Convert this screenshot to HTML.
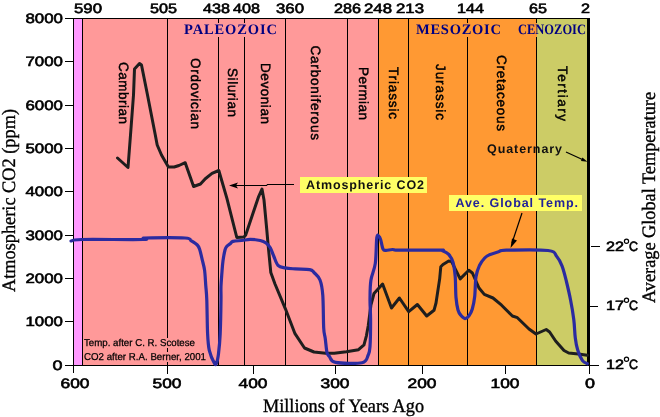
<!DOCTYPE html>
<html><head><meta charset="utf-8"><style>
html,body{margin:0;padding:0;background:#fff;}
svg{display:block;will-change:transform;}
</style></head><body>
<svg width="660" height="417" viewBox="0 0 660 417" text-rendering="geometricPrecision">
<rect width="660" height="417" fill="#fff"/>
<rect x="73" y="18" width="10" height="347" fill="#FF99FF"/>
<rect x="83" y="18" width="296" height="347" fill="#FF9999"/>
<rect x="379" y="18" width="158" height="347" fill="#FF9933"/>
<rect x="537" y="18" width="51" height="347" fill="#CCCC66"/>
<rect x="82" y="18" width="1" height="347" fill="#000"/>
<rect x="167" y="18" width="1" height="347" fill="#000"/>
<rect x="218" y="18" width="1" height="347" fill="#000"/>
<rect x="244" y="18" width="1" height="347" fill="#000"/>
<rect x="285" y="18" width="1" height="347" fill="#000"/>
<rect x="347" y="18" width="1" height="347" fill="#000"/>
<rect x="378" y="18" width="1" height="347" fill="#000"/>
<rect x="408" y="18" width="1" height="347" fill="#000"/>
<rect x="467" y="18" width="1" height="347" fill="#000"/>
<rect x="536" y="18" width="1" height="347" fill="#000"/>
<rect x="65" y="18" width="524" height="1" fill="#000"/>
<rect x="65" y="365" width="533" height="1" fill="#000"/>
<rect x="73" y="18" width="1" height="355" fill="#000"/>
<rect x="587" y="18" width="3" height="348" fill="#000"/>
<rect x="65" y="61" width="8" height="1" fill="#000"/>
<rect x="65" y="105" width="8" height="1" fill="#000"/>
<rect x="65" y="148" width="8" height="1" fill="#000"/>
<rect x="65" y="191" width="8" height="1" fill="#000"/>
<rect x="65" y="235" width="8" height="1" fill="#000"/>
<rect x="65" y="278" width="8" height="1" fill="#000"/>
<rect x="65" y="321" width="8" height="1" fill="#000"/>
<rect x="167" y="366" width="1" height="8" fill="#000"/>
<rect x="253" y="366" width="1" height="8" fill="#000"/>
<rect x="335" y="366" width="1" height="8" fill="#000"/>
<rect x="422" y="366" width="1" height="8" fill="#000"/>
<rect x="505" y="366" width="1" height="8" fill="#000"/>
<rect x="589" y="366" width="1" height="8" fill="#000"/>
<rect x="591" y="246" width="9" height="1" fill="#000"/>
<rect x="589" y="306" width="9" height="1" fill="#000"/>
<rect x="589" y="365" width="10" height="1" fill="#000"/>
<text x="63" y="23" font-size="13.5" font-weight="normal" fill="#000" text-anchor="end" font-family='"Liberation Sans", sans-serif' textLength="37.5" lengthAdjust="spacingAndGlyphs" stroke="#000" stroke-width="0.6">8000</text>
<text x="63" y="66" font-size="13.5" font-weight="normal" fill="#000" text-anchor="end" font-family='"Liberation Sans", sans-serif' textLength="37.5" lengthAdjust="spacingAndGlyphs" stroke="#000" stroke-width="0.6">7000</text>
<text x="63" y="110" font-size="13.5" font-weight="normal" fill="#000" text-anchor="end" font-family='"Liberation Sans", sans-serif' textLength="37.5" lengthAdjust="spacingAndGlyphs" stroke="#000" stroke-width="0.6">6000</text>
<text x="63" y="153" font-size="13.5" font-weight="normal" fill="#000" text-anchor="end" font-family='"Liberation Sans", sans-serif' textLength="37.5" lengthAdjust="spacingAndGlyphs" stroke="#000" stroke-width="0.6">5000</text>
<text x="63" y="196" font-size="13.5" font-weight="normal" fill="#000" text-anchor="end" font-family='"Liberation Sans", sans-serif' textLength="37.5" lengthAdjust="spacingAndGlyphs" stroke="#000" stroke-width="0.6">4000</text>
<text x="63" y="240" font-size="13.5" font-weight="normal" fill="#000" text-anchor="end" font-family='"Liberation Sans", sans-serif' textLength="37.5" lengthAdjust="spacingAndGlyphs" stroke="#000" stroke-width="0.6">3000</text>
<text x="63" y="283" font-size="13.5" font-weight="normal" fill="#000" text-anchor="end" font-family='"Liberation Sans", sans-serif' textLength="37.5" lengthAdjust="spacingAndGlyphs" stroke="#000" stroke-width="0.6">2000</text>
<text x="63" y="326" font-size="13.5" font-weight="normal" fill="#000" text-anchor="end" font-family='"Liberation Sans", sans-serif' textLength="37.5" lengthAdjust="spacingAndGlyphs" stroke="#000" stroke-width="0.6">1000</text>
<text x="62.5" y="370" font-size="13.5" font-weight="normal" fill="#000" text-anchor="end" font-family='"Liberation Sans", sans-serif' textLength="10" lengthAdjust="spacingAndGlyphs" stroke="#000" stroke-width="0.6">0</text>
<text x="75" y="388" font-size="13.5" font-weight="normal" fill="#000" text-anchor="middle" font-family='"Liberation Sans", sans-serif' textLength="29" lengthAdjust="spacingAndGlyphs" stroke="#000" stroke-width="0.6">600</text>
<text x="167" y="388" font-size="13.5" font-weight="normal" fill="#000" text-anchor="middle" font-family='"Liberation Sans", sans-serif' textLength="29" lengthAdjust="spacingAndGlyphs" stroke="#000" stroke-width="0.6">500</text>
<text x="253" y="388" font-size="13.5" font-weight="normal" fill="#000" text-anchor="middle" font-family='"Liberation Sans", sans-serif' textLength="29" lengthAdjust="spacingAndGlyphs" stroke="#000" stroke-width="0.6">400</text>
<text x="335" y="388" font-size="13.5" font-weight="normal" fill="#000" text-anchor="middle" font-family='"Liberation Sans", sans-serif' textLength="29" lengthAdjust="spacingAndGlyphs" stroke="#000" stroke-width="0.6">300</text>
<text x="422" y="388" font-size="13.5" font-weight="normal" fill="#000" text-anchor="middle" font-family='"Liberation Sans", sans-serif' textLength="29" lengthAdjust="spacingAndGlyphs" stroke="#000" stroke-width="0.6">200</text>
<text x="505" y="388" font-size="13.5" font-weight="normal" fill="#000" text-anchor="middle" font-family='"Liberation Sans", sans-serif' textLength="29" lengthAdjust="spacingAndGlyphs" stroke="#000" stroke-width="0.6">100</text>
<text x="590" y="388" font-size="13.5" font-weight="normal" fill="#000" text-anchor="middle" font-family='"Liberation Sans", sans-serif' textLength="10" lengthAdjust="spacingAndGlyphs" stroke="#000" stroke-width="0.6">0</text>
<text x="74" y="13" font-size="13.5" font-weight="normal" fill="#000" text-anchor="start" font-family='"Liberation Sans", sans-serif' textLength="28" lengthAdjust="spacingAndGlyphs" stroke="#000" stroke-width="0.6">590</text>
<text x="150" y="13" font-size="13.5" font-weight="normal" fill="#000" text-anchor="start" font-family='"Liberation Sans", sans-serif' textLength="27" lengthAdjust="spacingAndGlyphs" stroke="#000" stroke-width="0.6">505</text>
<text x="203" y="13" font-size="13.5" font-weight="normal" fill="#000" text-anchor="start" font-family='"Liberation Sans", sans-serif' textLength="27" lengthAdjust="spacingAndGlyphs" stroke="#000" stroke-width="0.6">438</text>
<text x="233" y="13" font-size="13.5" font-weight="normal" fill="#000" text-anchor="start" font-family='"Liberation Sans", sans-serif' textLength="27" lengthAdjust="spacingAndGlyphs" stroke="#000" stroke-width="0.6">408</text>
<text x="276" y="13" font-size="13.5" font-weight="normal" fill="#000" text-anchor="start" font-family='"Liberation Sans", sans-serif' textLength="28" lengthAdjust="spacingAndGlyphs" stroke="#000" stroke-width="0.6">360</text>
<text x="334" y="13" font-size="13.5" font-weight="normal" fill="#000" text-anchor="start" font-family='"Liberation Sans", sans-serif' textLength="27" lengthAdjust="spacingAndGlyphs" stroke="#000" stroke-width="0.6">286</text>
<text x="364" y="13" font-size="13.5" font-weight="normal" fill="#000" text-anchor="start" font-family='"Liberation Sans", sans-serif' textLength="28" lengthAdjust="spacingAndGlyphs" stroke="#000" stroke-width="0.6">248</text>
<text x="396" y="13" font-size="13.5" font-weight="normal" fill="#000" text-anchor="start" font-family='"Liberation Sans", sans-serif' textLength="28" lengthAdjust="spacingAndGlyphs" stroke="#000" stroke-width="0.6">213</text>
<text x="457" y="13" font-size="13.5" font-weight="normal" fill="#000" text-anchor="start" font-family='"Liberation Sans", sans-serif' textLength="27" lengthAdjust="spacingAndGlyphs" stroke="#000" stroke-width="0.6">144</text>
<text x="529" y="13" font-size="13.5" font-weight="normal" fill="#000" text-anchor="start" font-family='"Liberation Sans", sans-serif' textLength="18" lengthAdjust="spacingAndGlyphs" stroke="#000" stroke-width="0.6">65</text>
<text x="581" y="13" font-size="13.5" font-weight="normal" fill="#000" text-anchor="start" font-family='"Liberation Sans", sans-serif' textLength="9" lengthAdjust="spacingAndGlyphs" stroke="#000" stroke-width="0.6">2</text>
<text x="606" y="251" font-size="13.5" font-weight="normal" fill="#000" text-anchor="start" font-family='"Liberation Sans", sans-serif' textLength="18" lengthAdjust="spacingAndGlyphs" stroke="#000" stroke-width="0.6">22</text>
<text x="629" y="251" font-size="13.5" font-weight="normal" fill="#000" text-anchor="start" font-family='"Liberation Sans", sans-serif' textLength="9" lengthAdjust="spacingAndGlyphs" stroke="#000" stroke-width="0.6">C</text>
<circle cx="626.5" cy="241.3" r="2.1" fill="none" stroke="#000" stroke-width="1.2"/>
<text x="606" y="310" font-size="13.5" font-weight="normal" fill="#000" text-anchor="start" font-family='"Liberation Sans", sans-serif' textLength="18" lengthAdjust="spacingAndGlyphs" stroke="#000" stroke-width="0.6">17</text>
<text x="629" y="310" font-size="13.5" font-weight="normal" fill="#000" text-anchor="start" font-family='"Liberation Sans", sans-serif' textLength="9" lengthAdjust="spacingAndGlyphs" stroke="#000" stroke-width="0.6">C</text>
<circle cx="626.5" cy="300.3" r="2.1" fill="none" stroke="#000" stroke-width="1.2"/>
<text x="606" y="369" font-size="13.5" font-weight="normal" fill="#000" text-anchor="start" font-family='"Liberation Sans", sans-serif' textLength="18" lengthAdjust="spacingAndGlyphs" stroke="#000" stroke-width="0.6">12</text>
<text x="629" y="369" font-size="13.5" font-weight="normal" fill="#000" text-anchor="start" font-family='"Liberation Sans", sans-serif' textLength="9" lengthAdjust="spacingAndGlyphs" stroke="#000" stroke-width="0.6">C</text>
<circle cx="626.5" cy="359.3" r="2.1" fill="none" stroke="#000" stroke-width="1.2"/>
<rect x="183" y="23" width="95" height="14" fill="#FF9999"/>
<rect x="415" y="23" width="87" height="14" fill="#FF9933"/>
<text x="184" y="34" font-size="14.5" font-weight="bold" fill="#000080" text-anchor="start" font-family='"Liberation Serif", serif' textLength="93" lengthAdjust="spacing" >PALEOZOIC</text>
<text x="416" y="34" font-size="14.5" font-weight="bold" fill="#000080" text-anchor="start" font-family='"Liberation Serif", serif' textLength="85" lengthAdjust="spacing" >MESOZOIC</text>
<rect x="536" y="23" width="1" height="14" fill="#FF9933"/>
<text x="518" y="34" font-size="14.5" font-weight="bold" fill="#000080" text-anchor="start" font-family='"Liberation Serif", serif' textLength="68" lengthAdjust="spacingAndGlyphs" >CENOZOIC</text>
<text transform="translate(118.5,62) rotate(90)" x="0" y="0" font-size="13.5" font-weight="normal" fill="#000" font-family='"Liberation Sans", sans-serif' textLength="62" lengthAdjust="spacing" stroke="#000" stroke-width="0.45">Cambrian</text>
<text transform="translate(190.5,58) rotate(90)" x="0" y="0" font-size="13.5" font-weight="normal" fill="#000" font-family='"Liberation Sans", sans-serif' textLength="71" lengthAdjust="spacing" stroke="#000" stroke-width="0.45">Ordovician</text>
<text transform="translate(227.5,68) rotate(90)" x="0" y="0" font-size="13.5" font-weight="normal" fill="#000" font-family='"Liberation Sans", sans-serif' textLength="49" lengthAdjust="spacing" stroke="#000" stroke-width="0.45">Silurian</text>
<text transform="translate(260.5,63) rotate(90)" x="0" y="0" font-size="13.5" font-weight="normal" fill="#000" font-family='"Liberation Sans", sans-serif' textLength="61" lengthAdjust="spacing" stroke="#000" stroke-width="0.45">Devonian</text>
<text transform="translate(311,45.5) rotate(90)" x="0" y="0" font-size="13.5" font-weight="normal" fill="#000" font-family='"Liberation Sans", sans-serif' textLength="94.5" lengthAdjust="spacing" stroke="#000" stroke-width="0.45">Carboniferous</text>
<text transform="translate(358.5,67) rotate(90)" x="0" y="0" font-size="13.5" font-weight="normal" fill="#000" font-family='"Liberation Sans", sans-serif' textLength="53" lengthAdjust="spacing" stroke="#000" stroke-width="0.45">Permian</text>
<text transform="translate(389,67) rotate(90)" x="0" y="0" font-size="13.5" font-weight="normal" fill="#000" font-family='"Liberation Sans", sans-serif' textLength="52" lengthAdjust="spacing" stroke="#000" stroke-width="0.45">Triassic</text>
<text transform="translate(436,64) rotate(90)" x="0" y="0" font-size="13.5" font-weight="normal" fill="#000" font-family='"Liberation Sans", sans-serif' textLength="56" lengthAdjust="spacing" stroke="#000" stroke-width="0.45">Jurassic</text>
<text transform="translate(496.5,55) rotate(90)" x="0" y="0" font-size="13.5" font-weight="normal" fill="#000" font-family='"Liberation Sans", sans-serif' textLength="76" lengthAdjust="spacing" stroke="#000" stroke-width="0.45">Cretaceous</text>
<text transform="translate(557.5,66) rotate(90)" x="0" y="0" font-size="13.5" font-weight="normal" fill="#000" font-family='"Liberation Sans", sans-serif' textLength="55" lengthAdjust="spacing" stroke="#000" stroke-width="0.45">Tertiary</text>
<rect x="83" y="338" width="114" height="10" fill="#FF9999"/>
<rect x="83" y="352" width="124" height="10" fill="#FF9999"/>
<text x="84" y="346" font-size="10" font-weight="normal" fill="#000" text-anchor="start" font-family='"Liberation Sans", sans-serif' textLength="111" lengthAdjust="spacingAndGlyphs" stroke="#000" stroke-width="0.25">Temp. after C. R. Scotese</text>
<text x="84" y="360" font-size="10" font-weight="normal" fill="#000" text-anchor="start" font-family='"Liberation Sans", sans-serif' textLength="122" lengthAdjust="spacingAndGlyphs" stroke="#000" stroke-width="0.25">CO2 after R.A. Berner, 2001</text>
<path d="M117.5,158 L128,167.5 L130.5,135 L133.5,95 L134.5,69 L139.5,63.5 L141.5,65 L147.5,95 L155.3,135 L157.2,145 L161.5,155 L168.4,167 L174.2,167 L179,165.5 L185.2,162.7 L193.6,186.5 L200.5,184 L205.3,178.7 L212,173.4 L218.8,170.5 L226.9,198.4 L236.8,237.5 L244,237 L245.7,235 L258.3,197.4 L262,189 L264,200 L266.8,230 L268,243.7 L269.4,258 L270.8,272.5 L275,284 L285.4,308.8 L295,333.7 L304.5,348 L314,352 L325.7,353.3 L334.2,353.3 L346.4,351.8 L358.5,349.7 L364,344.8 L366.4,335.8 L368.2,326 L370.9,305.2 L374,293.5 L382.6,284 L391.5,308 L399.4,298 L408.7,311.7 L417.4,304.5 L426.7,316 L434,310.3 L436,303 L439.7,278.6 L440.8,266.7 L443,264.5 L448.7,261 L451.6,261.6 L460.2,278.9 L468.8,270.3 L472.4,273 L479,288 L484.3,294.4 L493,298 L501.6,305.2 L512.4,316 L517.4,317.7 L529,329 L536,334 L546.2,329.5 L549.6,332 L555.6,341 L564,350.5 L568.7,353 L578.3,354 L587.3,355.3" fill="none" stroke="#1e1e1e" stroke-width="3" stroke-linejoin="round" stroke-linecap="round"/>
<path d="M71,241 C72.8,240.8 70.0,239.8 82,239.5 C94.0,239.2 132.5,239.8 143,239.5 C153.5,239.2 138.0,238.2 145,238 C152.0,237.8 177.3,237.5 185,238 C192.7,238.5 189.1,239.6 191.2,240.8 C193.2,242.0 195.9,243.6 197.3,245 C198.7,246.4 198.9,247.1 199.7,249.5 C200.5,251.9 201.4,256.1 202.2,259.6 C203.0,263.1 204.0,266.0 204.6,270.4 C205.2,274.8 205.4,281.1 205.8,286 C206.2,290.9 206.5,292.1 206.8,300 C207.1,307.9 207.2,325.2 207.6,333.6 C208.0,342.0 208.2,345.4 209.3,350.4 C210.5,355.4 213.3,361.4 214.5,363.5 C215.7,365.6 215.8,364.6 216.5,363 C217.2,361.4 217.9,358.7 218.5,353.8 C219.1,348.9 219.8,342.6 220.2,333.6 C220.6,324.6 220.9,307.9 221,300 C221.1,292.1 220.8,290.7 221,286 C221.2,281.3 221.7,275.8 222,271.6 C222.3,267.4 222.5,264.4 223,260.8 C223.5,257.2 224.4,252.4 225,250 C225.6,247.6 225.9,247.4 226.7,246.4 C227.5,245.4 228.9,244.7 230,243.9 C231.1,243.1 231.0,242.0 233,241.4 C235.0,240.8 238.9,240.8 241.8,240.5 C244.7,240.2 247.1,239.3 250.2,239.3 C253.3,239.3 257.6,239.9 260.2,240.5 C262.8,241.1 264.3,241.8 266,243 C267.7,244.2 269.0,245.5 270.3,247.7 C271.6,249.9 272.4,253.1 273.7,256 C275.0,258.9 276.1,263.3 278,265.3 C279.9,267.3 282.3,267.3 285.2,267.9 C288.1,268.5 291.2,268.6 295.3,268.9 C299.4,269.2 306.6,269.0 309.7,269.6 C312.8,270.2 312.3,270.8 314,272.5 C315.7,274.2 318.5,276.2 320,280 C321.5,283.8 322.2,287.4 322.8,295.4 C323.4,303.4 323.3,320.9 323.7,328 C324.1,335.1 324.6,334.1 325.2,338.2 C325.8,342.3 326.3,349.7 327,352.7 C327.7,355.7 328.0,354.8 329.4,356.4 C330.8,358.0 330.1,361.3 335.5,362.4 C340.9,363.4 356.6,363.9 362,362.7 C367.4,361.5 366.9,357.7 368.2,355 C369.5,352.3 369.6,352.5 370,346.7 C370.4,340.9 370.6,327.9 370.6,320 C370.6,312.1 369.9,305.6 370,299 C370.1,292.4 370.0,286.1 370.9,280.2 C371.8,274.3 374.3,270.5 375.3,263.4 C376.3,256.3 376.2,242.0 376.8,237.5 C377.4,233.0 378.4,236.2 379,236.5 C379.6,236.8 379.9,237.3 380.6,239.4 C381.3,241.5 382.1,247.2 383,249 C383.9,250.8 384.3,250.3 385.9,250.4 C387.5,250.5 390.2,249.5 392.6,249.5 C395.0,249.5 392.1,250.1 400,250.2 C407.9,250.3 433.0,250.1 440,250.2 C447.0,250.2 440.8,249.8 442.2,250.5 C443.6,251.2 446.9,252.4 448.7,254.4 C450.5,256.4 451.9,258.6 453,262.3 C454.1,266.0 454.7,270.8 455.2,276.7 C455.7,282.6 455.5,291.9 456,297.5 C456.5,303.1 457.2,307.1 458,310 C458.8,312.9 459.6,313.8 460.8,315.2 C462.0,316.6 463.6,318.5 465,318.6 C466.4,318.7 467.8,317.3 469,315.7 C470.2,314.1 471.4,312.2 472.3,309 C473.2,305.8 474.1,301.9 474.7,296.5 C475.3,291.1 475.2,281.9 476,276.7 C476.8,271.5 478.2,268.3 479.6,265.2 C481.1,262.1 483.1,259.7 484.7,258 C486.3,256.3 487.2,255.9 489.5,254.8 C491.8,253.8 495.8,252.5 498.6,251.7 C501.4,250.9 498.0,250.4 506.2,250.2 C514.4,250.0 539.6,249.5 548,250.5 C556.4,251.5 554.3,253.6 556.6,256.2 C558.9,258.8 560.4,261.8 562,265.9 C563.6,270.0 564.9,275.3 566.3,281 C567.7,286.7 569.4,293.9 570.6,300.3 C571.9,306.8 573.0,313.4 573.8,319.7 C574.6,326.0 574.6,332.9 575.3,338 C575.9,343.1 576.5,346.2 577.7,350 C578.9,353.8 580.9,358.4 582.5,360.7 C584.1,363.0 586.5,363.2 587.3,363.7" fill="none" stroke="#2B2BA0" stroke-width="3.2" stroke-linejoin="round" stroke-linecap="round"/>
<rect x="300" y="177" width="127" height="16" fill="#FFFF66"/>
<text x="306" y="189" font-size="12.5" font-weight="bold" fill="#111" text-anchor="start" font-family='"Liberation Sans", sans-serif' textLength="118" lengthAdjust="spacing" >Atmospheric CO2</text>
<path d="M294,184.5 L267,184.5 L267,185.5 L232,185.5" stroke="#000" stroke-width="1" fill="none"/>
<path d="M229,185.5 L238,182.5 L236,185.5 L238,188.5 Z" fill="#000"/>
<rect x="449" y="195" width="133" height="16" fill="#FFFF66"/>
<text x="455.5" y="207" font-size="12.5" font-weight="bold" fill="#222299" text-anchor="start" font-family='"Liberation Sans", sans-serif' textLength="122.5" lengthAdjust="spacing" >Ave. Global Temp.</text>
<path d="M522,213 L512,243" stroke="#000" stroke-width="1.2" fill="none"/>
<path d="M510.5,248 L512,238.5 L517,240.5 Z" fill="#000"/>
<text x="487" y="153" font-size="12.5" font-weight="bold" fill="#111" text-anchor="start" font-family='"Liberation Sans", sans-serif' textLength="75" lengthAdjust="spacing" >Quaternary</text>
<path d="M566,152 L584,160.2" stroke="#000" stroke-width="1.2" fill="none"/>
<path d="M587.5,161.8 L582.4,157.4 L581,161 Z" fill="#000"/>
<text transform="translate(15,292) rotate(-90)" x="0" y="0" font-size="19" font-weight="normal" fill="#000" font-family='"Liberation Serif", serif' textLength="183" lengthAdjust="spacingAndGlyphs" stroke="#000" stroke-width="0.35">Atmospheric CO2 (ppm)</text>
<text transform="translate(654.5,303) rotate(-90)" x="0" y="0" font-size="19" font-weight="normal" fill="#000" font-family='"Liberation Serif", serif' textLength="211" lengthAdjust="spacingAndGlyphs" stroke="#000" stroke-width="0.35">Average Global Temperature</text>
<text x="263" y="412" font-size="19" font-weight="normal" fill="#000" text-anchor="start" font-family='"Liberation Serif", serif' textLength="161" lengthAdjust="spacingAndGlyphs" stroke="#000" stroke-width="0.35">Millions of Years Ago</text>
</svg>
</body></html>
